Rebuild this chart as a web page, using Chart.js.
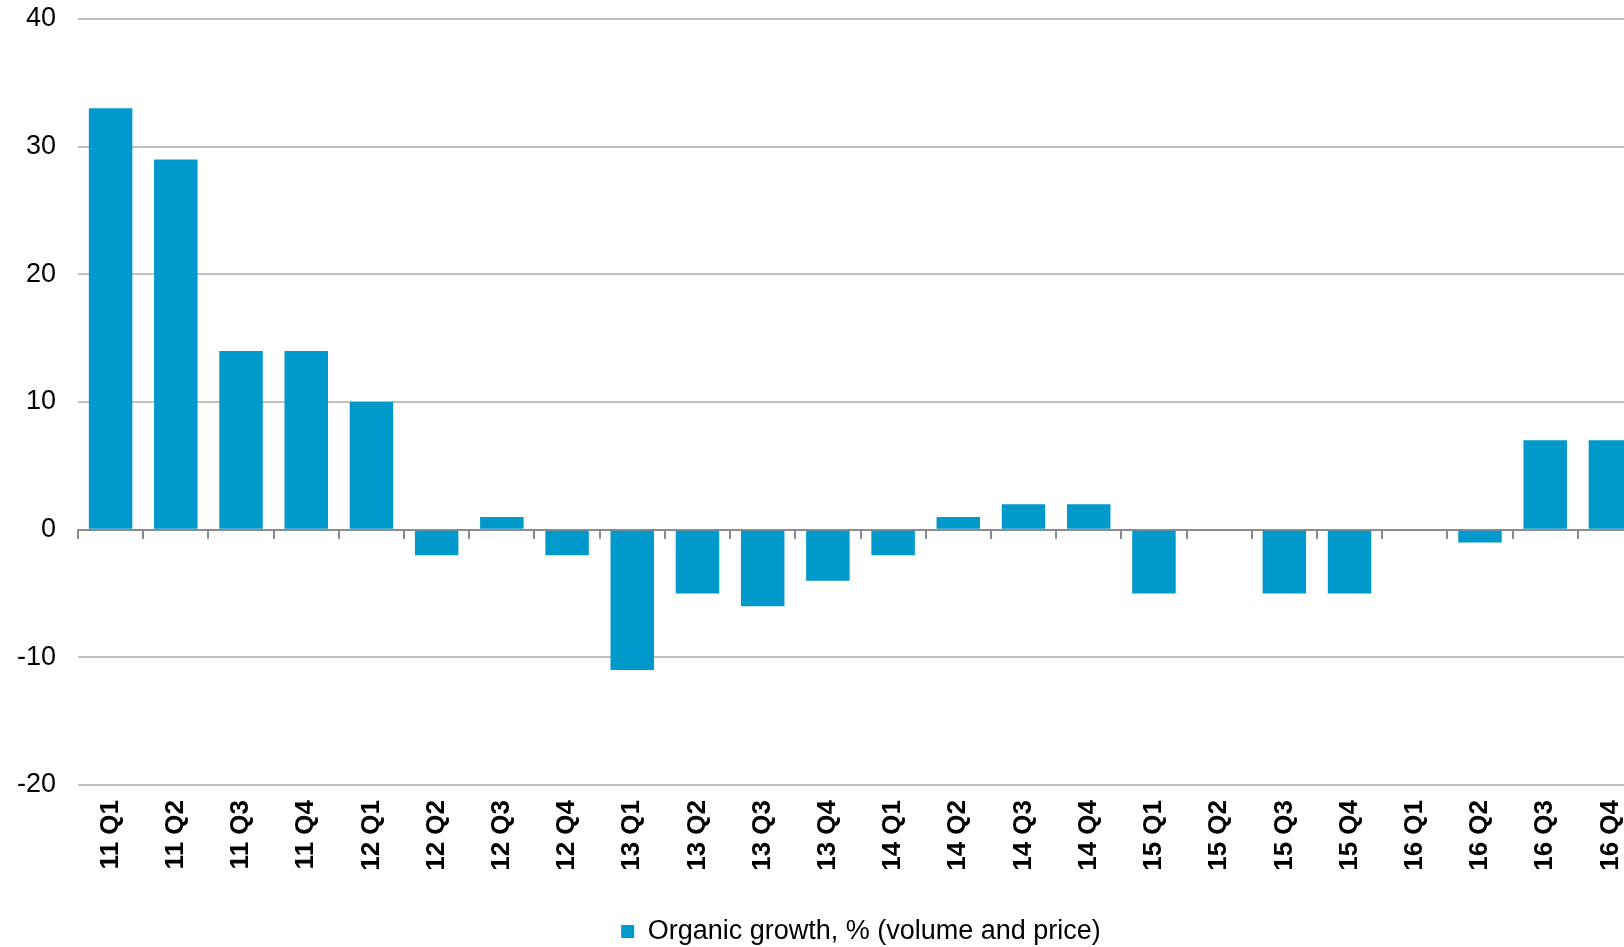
<!DOCTYPE html>
<html>
<head>
<meta charset="utf-8">
<script src="https://cdn.jsdelivr.net/npm/chart.js@4/dist/chart.umd.min.js"></script>
<style>
  html, body { margin: 0; padding: 0; background: #fff; overflow: hidden; }
  #wrap { width: 1722px; height: 947px; }
</style>
</head>
<body>
<div id="wrap"><canvas id="growth" width="1722" height="947"></canvas></div>
<script>
// quarters on the x axis
var quarters = ['11 Q1', '11 Q2', '11 Q3', '11 Q4', '12 Q1', '12 Q2', '12 Q3', '12 Q4',
                '13 Q1', '13 Q2', '13 Q3', '13 Q4', '14 Q1', '14 Q2', '14 Q3', '14 Q4',
                '15 Q1', '15 Q2', '15 Q3', '15 Q4', '16 Q1', '16 Q2', '16 Q3', '16 Q4'];

// organic growth, %
var growth = [33, 29, 14, 14, 10, -2, 1, -2,
              -11, -5, -6, -4, -2, 1, 2, 2,
              -5, 0, -5, -5, 0, -1, 7, 7];

var seriesName = 'Organic growth, % (volume and price)';
var yMin = -20, yMax = 40, yStep = 10;

var barColor = '#0099cc';
var gridColor = '#c0c0c0';
var axisColor = '#8c8c8c';
var fontFamily = '"Liberation Sans", Arial, sans-serif';

new Chart(document.getElementById('growth'), {
    type: 'bar',
    data: {
        labels: quarters,
        datasets: [{
            label: seriesName,
            data: growth,
            backgroundColor: barColor,
            borderWidth: 0,
            categoryPercentage: 1,
            barPercentage: 0.667
        }]
    },
    options: {
        responsive: false,
        animation: false,
        devicePixelRatio: 1,
        layout: { padding: { top: 0, left: 0, right: 0, bottom: -8 } },
        plugins: {
            tooltip: { enabled: false },
            legend: {
                position: 'bottom',
                labels: {
                    boxWidth: 13,
                    boxHeight: 13,
                    padding: 2,
                    color: '#000',
                    font: { family: fontFamily, size: 27 }
                }
            }
        },
        scales: {
            x: {
                position: 'bottom',
                grid: { display: false },
                border: { display: false },
                ticks: {
                    minRotation: 90,
                    maxRotation: 90,
                    padding: 7,
                    color: '#000',
                    font: { family: fontFamily, size: 26, weight: 'bold' }
                },
                afterFit: function (s) { s.height = 131; }
            },
            // zero line with the tick marks between the quarters
            x0: {
                type: 'category',
                labels: quarters,
                position: { y: 0 },
                offset: true,
                grid: {
                    offset: true,
                    drawOnChartArea: false,
                    drawTicks: true,
                    tickLength: 8,
                    color: axisColor,
                    lineWidth: 2
                },
                border: { display: true, color: axisColor, width: 2 },
                ticks: { display: false }
            },
            y: {
                min: yMin,
                max: yMax,
                ticks: {
                    stepSize: yStep,
                    padding: 22,
                    color: '#000',
                    font: { family: fontFamily, size: 27 }
                },
                grid: {
                    drawTicks: false,
                    lineWidth: 2,
                    color: function (ctx) {
                        return ctx.tick && ctx.tick.value === 0 ? axisColor : gridColor;
                    }
                },
                border: { display: false },
                afterFit: function (s) {
                    s.width = 78;
                    s.paddingTop = 19;   // top gridline sits 19px below the edge
                }
            },
            // empty right-hand space, the plot runs past the picture edge
            yRight: {
                position: 'right',
                grid: { display: false },
                border: { display: false },
                ticks: { display: false },
                afterFit: function (s) { s.width = 79; }
            }
        }
    }
});
</script>
</body>
</html>
